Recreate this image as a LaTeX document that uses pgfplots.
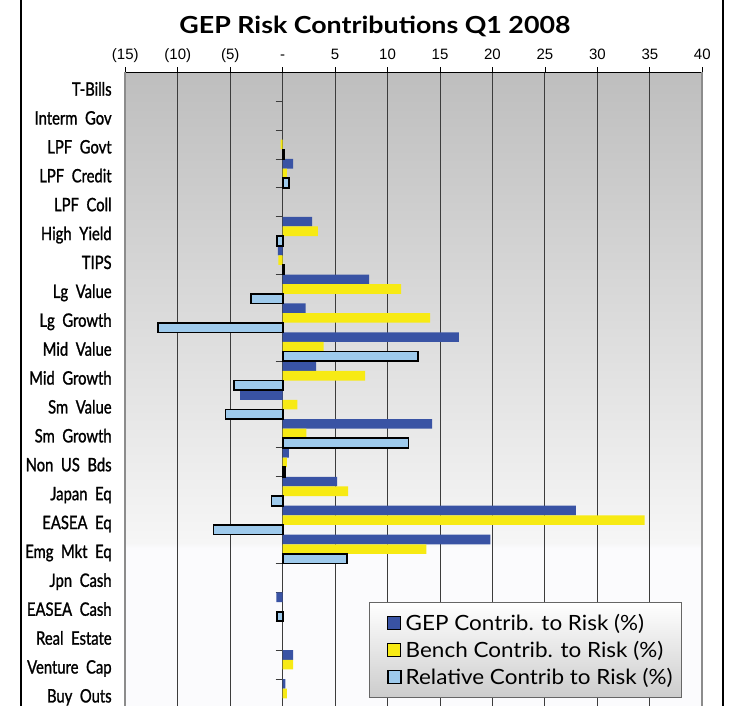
\documentclass[border=0pt]{standalone}
\usepackage{pgfplots}
\pgfplotsset{compat=1.18}
\usepackage{fontspec}
\setmainfont{Lato}
\newfontfamily\catfont[FakeStretch=0.8,WordSpace=2.0,FakeBold=1.2]{Lato}
\newfontfamily\legfont[FakeStretch=1.07]{Lato}
\newfontfamily\titlefont[FakeStretch=1.14]{Lato}
\newfontfamily\tickfont{Liberation Sans}
\definecolor{gepblue}{RGB}{57,83,164}
\definecolor{benchyel}{RGB}{247,234,20}
\definecolor{relblue}{RGB}{158,202,236}
\definecolor{gridc}{RGB}{60,60,60}
\definecolor{bgtop}{RGB}{190,190,190}
\definecolor{bgmid}{RGB}{246,246,246}
\definecolor{bgwhite}{RGB}{251,251,253}
\pgfdeclareverticalshading{plotbg}{100bp}{color(0bp)=(bgwhite); color(37.6bp)=(bgwhite); color(38bp)=(bgmid); color(75bp)=(bgtop); color(100bp)=(bgtop)}
\pgfplotsset{sqlegend/.style={legend image code/.code={\path (0pt,0pt) (26pt,0pt); \draw[##1] (11pt,-6.5pt) rectangle (24pt,6.5pt);}}}
\begin{document}
\begin{tikzpicture}
\begin{axis}[
  at={(125.3pt,-2pt)}, anchor=south west,
  scale only axis, width=577pt, height=635.7pt,
  xmin=-15, xmax=40, ymin=-0.5, ymax=21.5, y dir=reverse,
  axis background/.style={shading=plotbg},
  separate axis lines,
  x axis line style={black, line width=1pt},
  y axis line style={draw=black!45, line width=2pt},
  xtick={-15,-10,...,40},
  xticklabels={(15),(10),(5),-,5,10,15,20,25,30,35,40},
  xtick pos=right, xticklabel pos=right,
  tick align=outside,
  x tick style={black, line width=0.8pt},
  major tick length=5pt,
  xticklabel style={font=\tickfont\fontsize{15}{15}\selectfont, anchor=base, yshift=8pt},
  ytick={0,...,21},
  yticklabels={T-Bills,Interm Gov,LPF Govt,LPF Credit,LPF Coll,High Yield,TIPS,Lg Value,Lg Growth,Mid Value,Mid Growth,Sm Value,Sm Growth,Non US Bds,Japan Eq,EASEA Eq,Emg Mkt Eq,Jpn Cash,EASEA Cash,Real Estate,Venture Cap,Buy Outs},
  y tick style={draw=none},
  yticklabel style={font=\catfont\fontsize{18.5}{19}\selectfont, anchor=base east, inner sep=0pt, xshift=-8.5pt, yshift=-8.9pt},
  xmajorgrids, major grid style={gridc, line width=0.9pt},
  bar width=0.3333,
  legend style={at={(0.9648,0.1667)}, anchor=north east, draw=black!60, line width=0.8pt,
    top color=white, bottom color=black!20, font=\legfont\fontsize{21}{23}\selectfont,
    inner xsep=7pt, inner ysep=10pt, row sep=5pt},
  legend cell align=left,
]
\pgfplotsinvokeforeach{0.5,1.5,...,20.5}{
  \addplot[gridc, line width=0.9pt, forget plot] coordinates {(-0.67,#1) (0,#1)};
}
\addplot[xbar, sqlegend, bar shift=-0.3333, fill=gepblue, draw=none] coordinates {
(1.0,3) (2.8,5) (-0.45,6) (8.25,7) (2.2,8) (16.8,9) (3.2,10) (-4.05,11) (14.25,12)
(0.6,13) (5.2,14) (27.95,15) (19.8,16) (-0.6,18) (1.0,20) (0.25,21)};
\addlegendentry{GEP Contrib. to Risk (\%)}
\addplot[xbar, sqlegend, bar shift=0, fill=benchyel, draw=none] coordinates {
(-0.2,2) (0.4,3) (3.35,5) (-0.42,6) (11.3,7) (14.05,8) (3.9,9) (7.85,10) (1.4,11)
(2.25,12) (0.4,13) (6.25,14) (34.5,15) (13.7,16) (1.0,20) (0.4,21)};
\addlegendentry{Bench Contrib. to Risk (\%)}
\addplot[xbar, sqlegend, bar shift=0.3333, fill=relblue, draw=black, line width=1.7pt] coordinates {
(0.15,2) (0.6,3) (-0.55,5) (0.12,6) (-3.05,7) (-11.85,8) (12.9,9) (-4.65,10) (-5.45,11)
(12.0,12) (0.2,13) (-1.05,14) (-6.6,15) (6.1,16) (-0.55,18)};
\addlegendentry{Relative Contrib to Risk (\%)}
\end{axis}
\node[anchor=base, font=\titlefont\bfseries\fontsize{23.5}{25}\selectfont] at (375pt,672pt) {GEP Risk Contributions Q1 2008};
\draw[black, line width=1.2pt] (21pt,-5pt) -- (21pt,710pt);
\draw[black, line width=1.2pt] (723pt,-5pt) -- (723pt,710pt);
\pgfresetboundingbox
\path[use as bounding box] (0,0) rectangle (729pt,706pt);
\end{tikzpicture}
\end{document}
